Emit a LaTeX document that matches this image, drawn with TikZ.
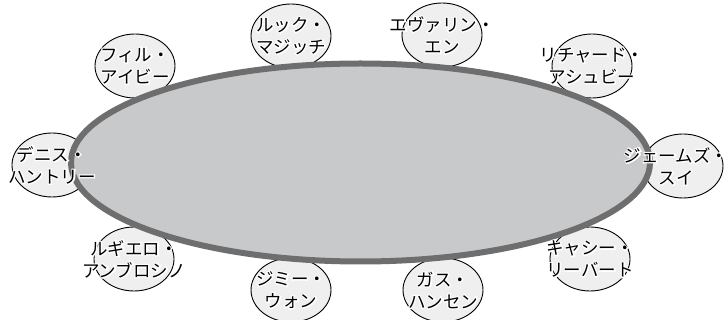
\documentclass[tikz,border=0pt]{standalone}
\usepackage{fontspec}
\newfontfamily\jpfont{Noto Sans CJK JP}
\newfontfamily\jphalo[FakeBold=14]{Noto Sans CJK JP}
\usetikzlibrary{shapes.geometric}
\definecolor{tablegray}{HTML}{C8C9CB}
\definecolor{rimgray}{HTML}{6E6E6E}
\definecolor{seatgray}{HTML}{EFEFEF}

\begin{document}
\begin{tikzpicture}[
  x=1pt,y=-1pt,
  seat/.style={ellipse,draw=black,line width=0.9pt,fill=seatgray,
    minimum width=80pt,minimum height=64pt,inner sep=0pt},
  round table/.style={ellipse,draw=rimgray,line width=6pt,fill=tablegray,
    minimum width=579pt,minimum height=198pt,inner sep=0pt},
  name label/.style={align=center,inner sep=0pt,
    font=\jpfont\fontsize{17.5}{22}\selectfont},
  name halo/.style={name label,text=white,
    font=\jphalo\fontsize{17.5}{22}\selectfont}
]
  \useasboundingbox (0,0) rectangle (728,320);

  % Seats first, so that the table covers their inner edges.
  \node[seat] (s1) at (52,165) {};
  \node[seat] (s2) at (135,66) {};
  \node[seat] (s3) at (291,36) {};
  \node[seat] (s4) at (442,35) {};
  \node[seat] (s5) at (592,66) {};
  \node[seat] (s6) at (683,166) {};
  \node[seat] (s7) at (590,259) {};
  \node[seat] (s8) at (443,290) {};
  \node[seat] (s9) at (291,290) {};
  \node[seat] (s10) at (134,259) {};

  \node[round table] (tbl) at (360.5,162.5) {};

  % Names go on top of everything, each over a white halo.
  \node[name halo] (h1) at (s1.center) {デニス・\\ハントリー};
  \node[name label] (n1) at (s1.center) {デニス・\\ハントリー};
  \node[name halo] (h2) at (s2.center) {フィル・\\アイビー};
  \node[name label] (n2) at (s2.center) {フィル・\\アイビー};
  \node[name halo] (h3) at (s3.center) {ルック・\\マジッチ};
  \node[name label] (n3) at (s3.center) {ルック・\\マジッチ};
  \node[name halo] (h4) at (s4.center) {エヴァリン・\\エン};
  \node[name label] (n4) at (s4.center) {エヴァリン・\\エン};
  \node[name halo] (h5) at (s5.center) {リチャード・\\アシュビー};
  \node[name label] (n5) at (s5.center) {リチャード・\\アシュビー};
  \node[name halo] (h6) at ([xshift=-7pt]s6.center) {ジェームズ・\\スイ};
  \node[name label] (n6) at ([xshift=-7pt]s6.center) {ジェームズ・\\スイ};
  \node[name halo] (h7) at (s7.center) {キャシー・\\リーバート};
  \node[name label] (n7) at (s7.center) {キャシー・\\リーバート};
  \node[name halo] (h8) at (s8.center) {ガス・\\ハンセン};
  \node[name label] (n8) at (s8.center) {ガス・\\ハンセン};
  \node[name halo] (h9) at (s9.center) {ジミー・\\ウォン};
  \node[name label] (n9) at (s9.center) {ジミー・\\ウォン};
  \node[name halo] (h10) at (s10.center) {ルギエロ・\\アンブロシノ};
  \node[name label] (n10) at (s10.center) {ルギエロ・\\アンブロシノ};
\end{tikzpicture}
\end{document}
